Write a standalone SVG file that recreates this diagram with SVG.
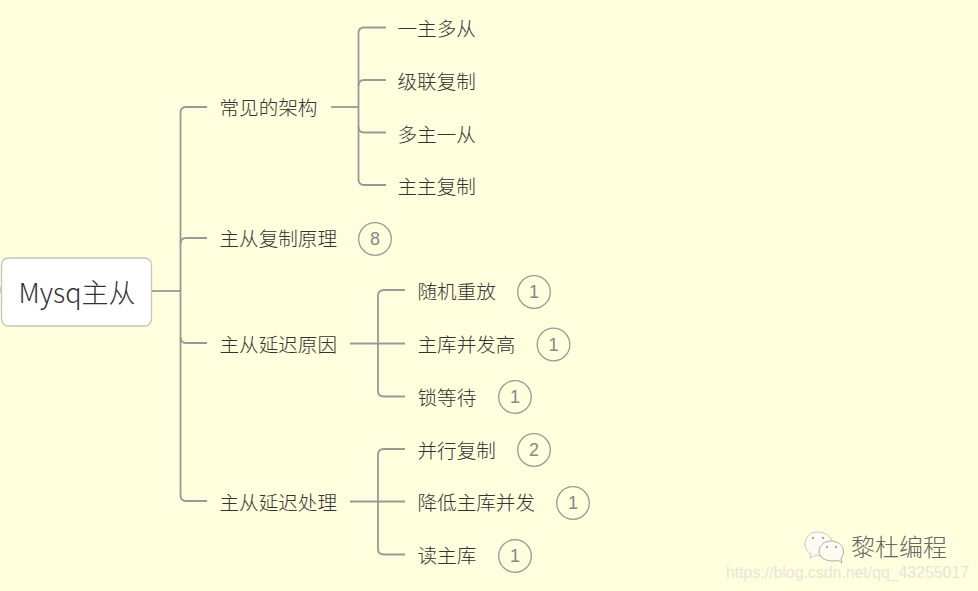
<svg xmlns="http://www.w3.org/2000/svg" width="978" height="591" viewBox="0 0 978 591">
<style>
.c{fill:none;stroke:#999;stroke-width:1.8}
.t{font-family:"Noto Sans CJK SC","Noto Sans",sans-serif;font-weight:300;font-size:19.6px;fill:#333}
.b{fill:none;stroke:#999;stroke-width:1.300}
.n{font-family:"Liberation Sans",sans-serif;font-size:18px;fill:#888;text-anchor:middle}
</style>
<rect width="978" height="591" fill="#ffffdd"/>
<g id="connectors">
<path class="c" d="M152 291H180"/>
<path class="c" d="M207 107H186Q180.500 107 180.500 113V495Q180.500 501 186 501H207"/>
<path class="c" d="M180.500 244Q180.500 238 186 238H207"/>
<path class="c" d="M180.500 337Q180.500 343 186 343H207"/>
<path class="c" d="M331 107H358"/>
<path class="c" d="M386 27.500H364Q358.500 27.500 358.500 33V179Q358.500 185 364 185H386"/>
<path class="c" d="M358.500 86Q358.500 80 364 80H386"/>
<path class="c" d="M358.500 127Q358.500 132.500 364 132.500H386"/>
<path class="c" d="M350 343.500H405"/>
<path class="c" d="M405 290H384Q378 290 378 296V391Q378 396.500 384 396.500H405"/>
<path class="c" d="M350 501.500H405"/>
<path class="c" d="M405 449H384Q378 449 378 455V549Q378 554.500 384 554.500H405"/>
</g>
<g id="root">
<rect x="1.500" y="258" width="150" height="68" rx="7" fill="#fff" stroke="#c4c4c4" stroke-width="1.300"/>
<path d="M0 287V293" stroke="#bbb" stroke-width="1.500"/>
<text x="18.500" y="303" font-family="'Noto Sans CJK SC','Noto Sans',sans-serif" font-weight="300" font-size="27px" fill="#333" textLength="117" lengthAdjust="spacingAndGlyphs">Mysq主从</text>
</g>
<g id="n1"><text class="t" x="219.500" y="115">常见的架构</text></g>
<g id="n1a"><text class="t" x="397.500" y="35.500">一主多从</text></g>
<g id="n1b"><text class="t" x="397.500" y="88.500">级联复制</text></g>
<g id="n1c"><text class="t" x="397.500" y="141.500">多主一从</text></g>
<g id="n1d"><text class="t" x="397.500" y="193.500">主主复制</text></g>
<g id="n2"><text class="t" x="219.500" y="245.500">主从复制原理</text><circle class="b" cx="375" cy="239" r="16.300"/><text class="n" x="375" y="245">8</text></g>
<g id="n3"><text class="t" x="219.500" y="351.500">主从延迟原因</text></g>
<g id="n3a"><text class="t" x="417.500" y="298.500">随机重放</text><circle class="b" cx="534" cy="292" r="16.300"/><text class="n" x="534" y="298">1</text></g>
<g id="n3b"><text class="t" x="417.500" y="351.500">主库并发高</text><circle class="b" cx="553.500" cy="344.500" r="16.300"/><text class="n" x="553.500" y="351">1</text></g>
<g id="n3c"><text class="t" x="417.500" y="404.500">锁等待</text><circle class="b" cx="515" cy="397" r="16.300"/><text class="n" x="515" y="403">1</text></g>
<g id="n4"><text class="t" x="219.500" y="509.500">主从延迟处理</text></g>
<g id="n4a"><text class="t" x="417.500" y="457.500">并行复制</text><circle class="b" cx="534" cy="450" r="16.300"/><text class="n" x="534" y="456">2</text></g>
<g id="n4b"><text class="t" x="417.500" y="509.500">降低主库并发</text><circle class="b" cx="573" cy="503" r="16.300"/><text class="n" x="573" y="509">1</text></g>
<g id="n4c"><text class="t" x="417.500" y="562.500">读主库</text><circle class="b" cx="515" cy="556" r="16.300"/><text class="n" x="515" y="562">1</text></g>
<g id="watermark">
<path d="M817 532C809 532 805 539 805 544C805 549 808 552 811 554L810 558L816 555C820 556 822 556 822 556L832 541C830 535 824 532 817 532Z" fill="#fbfbf2" stroke="#bbb" stroke-width="0.800"/>
<path d="M831 541C823 541 819 547 819 551C819 558 826 561 832 561C835 561 837 561 838 560L842 563L841 558C843 556 843.500 554 843.500 551C843.500 546 838 541 831 541Z" fill="#fbfbf2" stroke="#999" stroke-width="0.800"/>
<circle cx="813" cy="538" r="1.200" fill="#aaa"/><circle cx="823" cy="538" r="1.200" fill="#aaa"/>
<circle cx="827" cy="547" r="1.200" fill="#aaa"/><circle cx="836" cy="547" r="1.200" fill="#aaa"/>
<text x="851" y="556" font-family="'Noto Sans CJK SC',sans-serif" font-weight="300" font-size="24px" fill="#666" textLength="96">黎杜编程</text>
<text x="726" y="578" font-family="'Liberation Sans',sans-serif" font-size="16px" fill="#e6e6d6" textLength="243" lengthAdjust="spacingAndGlyphs">https://blog.csdn.net/qq_43255017</text>
</g>
</svg>
